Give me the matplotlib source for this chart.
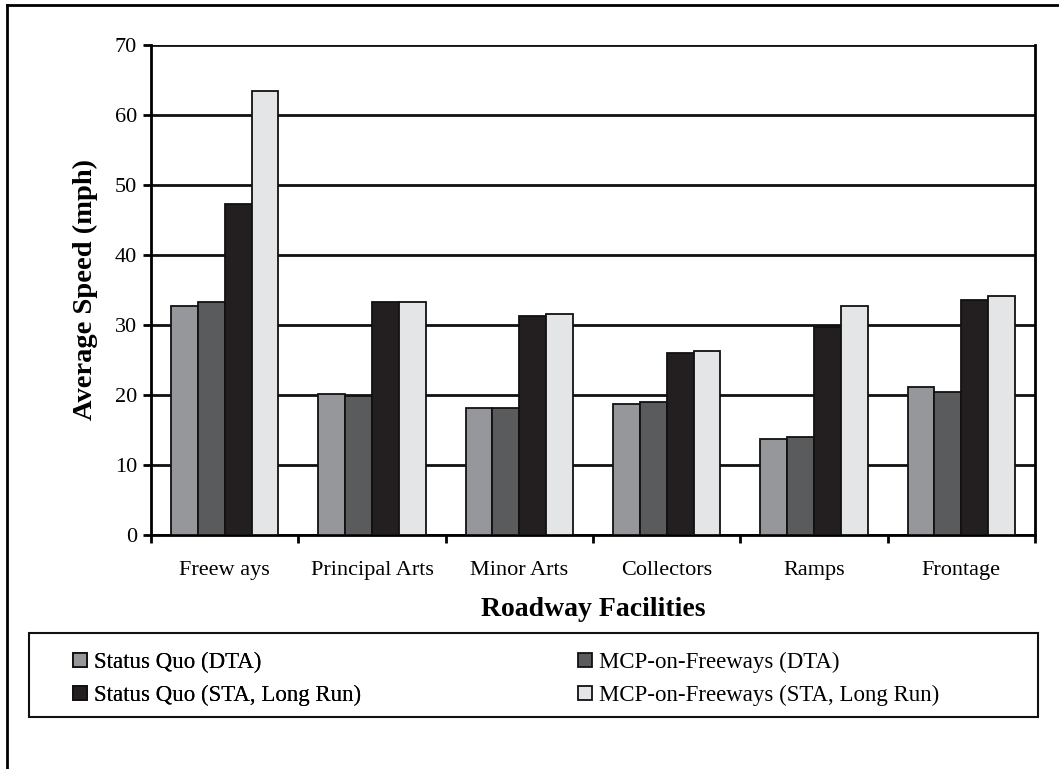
import matplotlib
matplotlib.use('Agg')
from matplotlib import pyplot as plt
from matplotlib.lines import Line2D
from matplotlib.patches import Rectangle
import numpy as np

categories = ['Freew ays', 'Principal Arts', 'Minor Arts', 'Collectors', 'Ramps', 'Frontage']
series_names = ['Status Quo (DTA)', 'MCP-on-Freeways (DTA)',
                'Status Quo (STA, Long Run)', 'MCP-on-Freeways (STA, Long Run)']
sq_dta = [32.7, 20.1, 18.2, 18.7, 13.7, 21.2]
mcp_dta = [33.3, 19.9, 18.2, 19.0, 14.0, 20.4]
sq_sta = [47.3, 33.3, 31.3, 26.0, 29.7, 33.6]
mcp_sta = [63.5, 33.3, 31.6, 26.3, 32.7, 34.1]
yticks = [0, 10, 20, 30, 40, 50, 60, 70]

colors = ['#96979b', '#5a5b5d', '#231f20', '#e4e5e7']

plt.rcParams['font.family'] = ['Liberation Serif', 'DejaVu Serif']

W, H = 1059, 769
fig = plt.figure(figsize=(W/100, H/100), dpi=100)
ax = fig.add_axes([151/W, 1 - 535/H, (1035 - 151)/W, (535 - 45)/H])

x = np.arange(len(categories))
w = 0.1825
for i, vals in enumerate([sq_dta, mcp_dta, sq_sta, mcp_sta]):
    ax.bar(x + (i - 1.5) * w, vals, w, color=colors[i], edgecolor='#111111',
           linewidth=1.3, label=series_names[i], zorder=3)

ax.set_xlim(-0.5, len(categories) - 0.5)
ax.set_ylim(0, 70)
ax.set_yticks(yticks)
ax.set_yticklabels([str(t) for t in yticks], fontsize=16)
ax.set_xticks(np.arange(len(categories) + 1) - 0.5)
ax.set_xticklabels([])
ax.set_xticks(x, minor=True)
ax.set_xticklabels(categories, minor=True, fontsize=16)
ax.tick_params(axis='x', which='minor', length=0, pad=19)
ax.tick_params(axis='x', which='major', length=6, width=2, direction='out')
ax.tick_params(axis='y', length=6, width=2, direction='out', pad=4)

ax.set_axisbelow(True)
ax.yaxis.grid(color='#111111', linewidth=2)
for s in ['left', 'right', 'bottom']:
    ax.spines[s].set_linewidth(2)
ax.spines['top'].set_visible(False)

ax.set_ylabel('Average Speed (mph)', fontsize=20.5, fontweight='bold', labelpad=12)
ax.set_xlabel('Roadway Facilities', fontsize=20, fontweight='bold', labelpad=12)

# legend: two columns, filled row by row like the original
handles, labels = ax.get_legend_handles_labels()
legkw = dict(loc='center left', fontsize=16.5, frameon=False,
             handlelength=0.6, handleheight=0.6, handletextpad=0.3,
             borderpad=0, labelspacing=0.5, borderaxespad=0)
leg1 = fig.legend([handles[0], handles[2]], [labels[0], labels[2]],
                  bbox_to_anchor=(73/W, 1 - 679/H), **legkw)
fig.add_artist(leg1)
leg2 = fig.legend([handles[1], handles[3]], [labels[1], labels[3]],
                  bbox_to_anchor=(578/W, 1 - 679/H), **legkw)
fig.add_artist(Rectangle((29/W, 1 - 717/H), (1038 - 29)/W, (717 - 633)/H,
                         transform=fig.transFigure, fill=False,
                         edgecolor='#111111', linewidth=1.5))

# outer chart frame
fig.add_artist(Line2D([7/W, 1], [1 - 5/H, 1 - 5/H], transform=fig.transFigure, color='black', linewidth=2))
fig.add_artist(Line2D([7/W, 7/W], [0, 1 - 5/H], transform=fig.transFigure, color='black', linewidth=2))

fig.savefig('out.png', dpi=100)
